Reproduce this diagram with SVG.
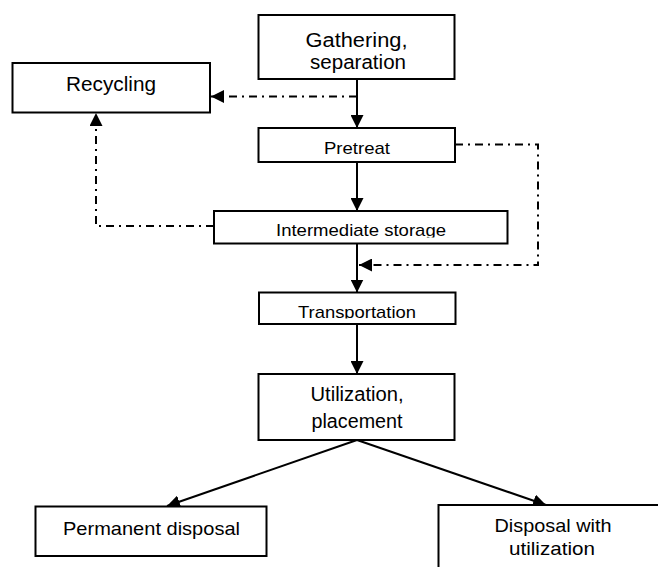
<svg xmlns="http://www.w3.org/2000/svg" width="658" height="567" viewBox="0 0 658 567">
  <style>
    .box { fill: #ffffff; stroke: #000000; stroke-width: 2; }
    .lbl { font-family: "Liberation Sans", Arial, sans-serif; fill: #000000; text-anchor: middle; }
    .solid { stroke: #000000; stroke-width: 2; fill: none; }
    .dd { stroke: #000000; stroke-width: 2; fill: none; stroke-dasharray: 8 5 2 5; }
  </style>
  <defs>
    <marker id="ah" viewBox="0 0 13 13" refX="13" refY="6.5" markerWidth="13" markerHeight="13" markerUnits="userSpaceOnUse" orient="auto">
      <path d="M0,0 L13,6.5 L0,13 Z" fill="#000000"/>
    </marker>
    <clipPath id="clipInter"><rect x="214" y="211" width="293" height="26.5"/></clipPath>
    <clipPath id="clipTrans"><rect x="259" y="292" width="196" height="26.5"/></clipPath>
  </defs>
  <rect x="0" y="0" width="658" height="567" fill="#ffffff"/>

  <g id="connectors">
    <line class="solid" x1="357" y1="79" x2="357" y2="128" marker-end="url(#ah)"/>
    <line class="dd" x1="357" y1="96.5" x2="211" y2="96.5" marker-end="url(#ah)"/>
    <line class="solid" x1="357" y1="162" x2="357" y2="211" marker-end="url(#ah)"/>
    <path class="dd" d="M455,144.5 H538 V265 H359" marker-end="url(#ah)"/>
    <path class="dd" d="M214,226 H96 V113" marker-end="url(#ah)"/>
    <line class="solid" x1="357" y1="243" x2="357" y2="292.5" marker-end="url(#ah)"/>
    <line class="solid" x1="357" y1="324" x2="357" y2="374" marker-end="url(#ah)"/>
    <line class="solid" x1="357" y1="440" x2="167" y2="506" marker-end="url(#ah)"/>
    <line class="solid" x1="357" y1="440" x2="546" y2="505" marker-end="url(#ah)"/>
  </g>

  <g id="gathering">
    <rect class="box" x="258.5" y="15" width="196" height="64"/>
    <text class="lbl" x="356.5" y="46.5" font-size="20" textLength="102" lengthAdjust="spacingAndGlyphs">Gathering,</text>
    <text class="lbl" x="358" y="68.5" font-size="20" textLength="96" lengthAdjust="spacingAndGlyphs">separation</text>
  </g>

  <g id="recycling">
    <rect class="box" x="12.5" y="63" width="197.5" height="49.5"/>
    <text class="lbl" x="111" y="91" font-size="20" textLength="90" lengthAdjust="spacingAndGlyphs">Recycling</text>
  </g>

  <g id="pretreat">
    <rect class="box" x="258.5" y="128" width="196.5" height="34"/>
    <text class="lbl" x="357" y="154" font-size="17" textLength="66" lengthAdjust="spacingAndGlyphs">Pretreat</text>
  </g>

  <g id="intermediate">
    <rect class="box" x="214" y="211" width="293.5" height="32.5"/>
    <text class="lbl" x="361" y="236" font-size="17" textLength="170" lengthAdjust="spacingAndGlyphs" clip-path="url(#clipInter)">Intermediate storage</text>
  </g>

  <g id="transportation">
    <rect class="box" x="259" y="292.5" width="196.5" height="31.5"/>
    <text class="lbl" x="357" y="317.5" font-size="17" textLength="118" lengthAdjust="spacingAndGlyphs" clip-path="url(#clipTrans)">Transportation</text>
  </g>

  <g id="utilization">
    <rect class="box" x="258.5" y="374" width="196" height="66"/>
    <text class="lbl" x="357" y="401" font-size="19.5" textLength="93" lengthAdjust="spacingAndGlyphs">Utilization,</text>
    <text class="lbl" x="357" y="428" font-size="19.5" textLength="91" lengthAdjust="spacingAndGlyphs">placement</text>
  </g>

  <g id="permanent">
    <rect class="box" x="35.5" y="506.5" width="231" height="49.5"/>
    <text class="lbl" x="151.5" y="535" font-size="19" textLength="177" lengthAdjust="spacingAndGlyphs">Permanent disposal</text>
  </g>

  <g id="disposal-utilization">
    <rect class="box" x="438.5" y="505" width="240" height="80"/>
    <text class="lbl" x="553" y="532" font-size="19" textLength="117" lengthAdjust="spacingAndGlyphs">Disposal with</text>
    <text class="lbl" x="552" y="555" font-size="19" textLength="86" lengthAdjust="spacingAndGlyphs">utilization</text>
  </g>
</svg>
